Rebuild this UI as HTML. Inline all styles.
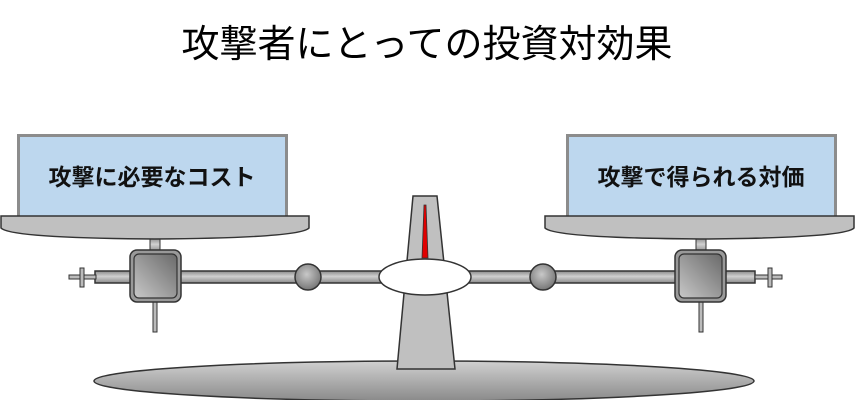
<!DOCTYPE html>
<html><head><meta charset="utf-8"><style>
html,body{margin:0;padding:0;background:#fff;width:855px;height:400px;overflow:hidden}
svg text{font-family:"Liberation Sans","Noto Sans CJK JP",sans-serif}
</style></head><body>
<svg width="855" height="400" viewBox="0 0 855 400" xmlns="http://www.w3.org/2000/svg">
<defs>
<linearGradient id="rod" x1="0" y1="0" x2="0" y2="1"><stop offset="0" stop-color="#8a8a8a"/><stop offset="0.45" stop-color="#d0d0d0"/><stop offset="1" stop-color="#8a8a8a"/></linearGradient>
<linearGradient id="blk" x1="0" y1="1" x2="1" y2="0"><stop offset="0" stop-color="#c8c8c8"/><stop offset="1" stop-color="#6a6a6a"/></linearGradient>
<radialGradient id="ball" cx="0.45" cy="0.4" r="0.6"><stop offset="0" stop-color="#c8c8c8"/><stop offset="1" stop-color="#777"/></radialGradient>
<linearGradient id="base" x1="0" y1="0" x2="0" y2="1"><stop offset="0" stop-color="#d0d0d0"/><stop offset="1" stop-color="#8a8a8a"/></linearGradient>
</defs>
<text x="427" y="57" font-size="38" text-anchor="middle" fill="#000">攻撃者にとっての投資対効果</text>
<ellipse cx="424" cy="381" rx="330" ry="20" fill="url(#base)" stroke="#333" stroke-width="1.5"/>
<polygon points="413,196 437,196 455,369 397,369" fill="#c0c0c0" stroke="#333" stroke-width="1.5"/>
<polygon points="424,205 426,205 428,258 422,258" fill="#e00000" stroke="#333" stroke-width="0.8"/>
<rect x="95" y="271" width="660" height="12" fill="url(#rod)" stroke="#333" stroke-width="1.5"/>
<rect x="69" y="275" width="27" height="4" fill="#bbb" stroke="#333" stroke-width="1"/>
<rect x="80" y="268" width="4" height="19" fill="#bbb" stroke="#333" stroke-width="1"/>
<rect x="755" y="275" width="27" height="4" fill="#bbb" stroke="#333" stroke-width="1"/>
<rect x="768" y="268" width="4" height="19" fill="#bbb" stroke="#333" stroke-width="1"/>
<circle cx="308" cy="277" r="13" fill="url(#ball)" stroke="#333" stroke-width="1.5"/>
<circle cx="543" cy="277" r="13" fill="url(#ball)" stroke="#333" stroke-width="1.5"/>
<ellipse cx="425" cy="277" rx="46" ry="18" fill="#fff" stroke="#333" stroke-width="1.5"/>
<rect x="150" y="238" width="10" height="14" fill="url(#rod)" stroke="#333" stroke-width="1"/>
<rect x="153" y="302" width="4" height="30" fill="#bbb" stroke="#333" stroke-width="1"/>
<rect x="130" y="250" width="51" height="52" rx="7" fill="#999" stroke="#333" stroke-width="1.5"/>
<rect x="134" y="254" width="43" height="44" rx="5" fill="url(#blk)" stroke="#333" stroke-width="1.2"/>
<rect x="696" y="238" width="10" height="14" fill="url(#rod)" stroke="#333" stroke-width="1"/>
<rect x="699" y="302" width="4" height="30" fill="#bbb" stroke="#333" stroke-width="1"/>
<rect x="675" y="250" width="51" height="52" rx="7" fill="#999" stroke="#333" stroke-width="1.5"/>
<rect x="679" y="254" width="43" height="44" rx="5" fill="url(#blk)" stroke="#333" stroke-width="1.2"/>
<rect x="18.5" y="135.5" width="268" height="82" fill="#bdd7ee" stroke="#8c8c8c" stroke-width="3"/>
<path d="M1,216 L309,216 L309,228 Q300,238 155,239 Q10,238 1,228 Z" fill="#c0c0c0" stroke="#333" stroke-width="1.5"/>
<text x="152" y="185" font-size="23" font-weight="bold" text-anchor="middle" fill="#111">攻撃に必要なコスト</text>
<rect x="567.5" y="135.5" width="268" height="82" fill="#bdd7ee" stroke="#8c8c8c" stroke-width="3"/>
<path d="M545,216 L854,216 L854,228 Q845,238 700,239 Q555,238 545,228 Z" fill="#c0c0c0" stroke="#333" stroke-width="1.5"/>
<text x="701" y="185" font-size="23" font-weight="bold" text-anchor="middle" fill="#111">攻撃で得られる対価</text>
</svg>
</body></html>
